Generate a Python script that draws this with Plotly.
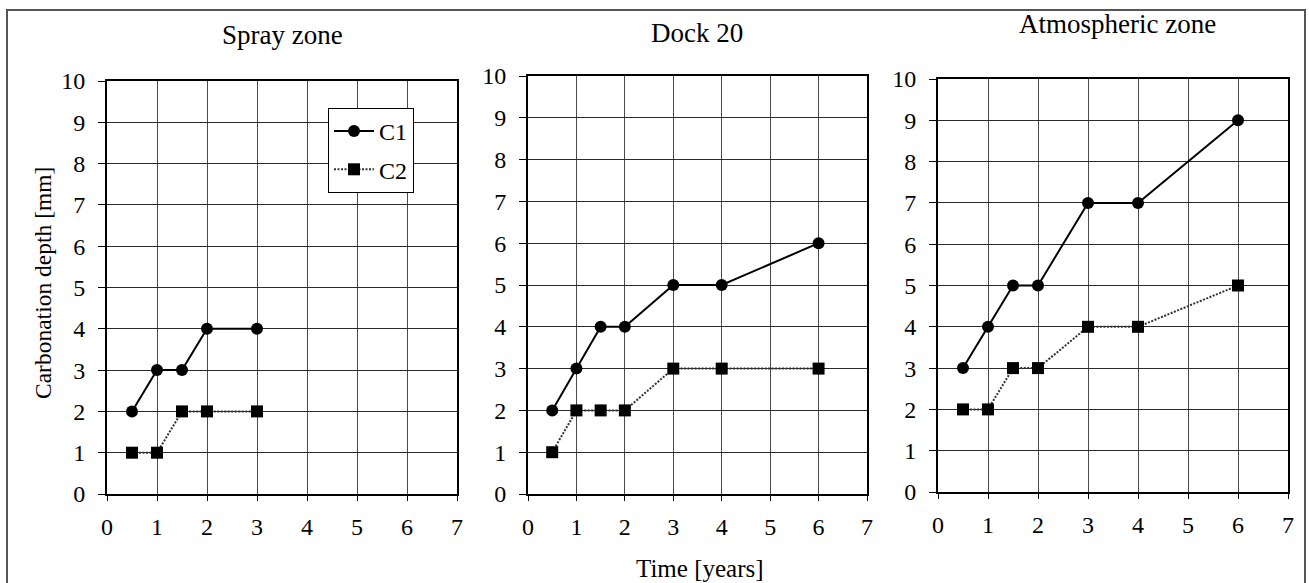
import plotly.graph_objects as go

W, H = 1309, 583

# ---- data -------------------------------------------------------------
panel_titles = ["Spray zone", "Dock 20", "Atmospheric zone"]

spray_time = [0.5, 1, 1.5, 2, 3]
spray_c1 = [2, 3, 3, 4, 4]
spray_c2 = [1, 1, 2, 2, 2]

dock_time = [0.5, 1, 1.5, 2, 3, 4, 6]
dock_c1 = [2, 3, 4, 4, 5, 5, 6]
dock_c2 = [1, 2, 2, 2, 3, 3, 3]

atmo_time = [0.5, 1, 1.5, 2, 3, 4, 6]
atmo_c1 = [3, 4, 5, 5, 7, 7, 9]
atmo_c2 = [2, 2, 3, 3, 4, 4, 5]

x_ticks = list(range(0, 8))
y_ticks = list(range(0, 11))

series_names = ["C1", "C2"]

# ---- layout helpers ---------------------------------------------------
FONT = "Liberation Serif, Times New Roman, serif"


def px_x(p):
    return p / W


def px_y(p):
    return 1 - p / H


# plot-area boxes in pixels: (left, right, top, bottom)
boxes = [(107, 457, 81, 494), (528, 867, 76, 494), (938, 1288, 79, 492)]
title_pos = [(282, 35), (697, 33), (1117, 24)]

panels = [
    (spray_time, spray_c1, spray_c2),
    (dock_time, dock_c1, dock_c2),
    (atmo_time, atmo_c1, atmo_c2),
]

fig = go.Figure()

for i, (t, c1, c2) in enumerate(panels):
    sfx = "" if i == 0 else str(i + 1)
    fig.add_trace(go.Scatter(
        x=t, y=c1, name=series_names[0], mode="lines+markers",
        xaxis="x" + sfx, yaxis="y" + sfx,
        line=dict(color="black", width=2),
        marker=dict(symbol="circle", size=12, color="black"),
        legendgroup="c1", showlegend=(i == 0),
    ))
    fig.add_trace(go.Scatter(
        x=t, y=c2, name=series_names[1], mode="lines+markers",
        xaxis="x" + sfx, yaxis="y" + sfx,
        line=dict(color="#333333", width=2, dash="2px,1.5px"),
        marker=dict(symbol="square", size=12, color="black"),
        legendgroup="c2", showlegend=(i == 0),
    ))

layout = dict(
    template="none",
    width=W, height=H, autosize=False,
    margin=dict(l=0, r=0, t=0, b=0, pad=0),
    paper_bgcolor="white", plot_bgcolor="white",
    font=dict(family=FONT, size=22, color="black"),
    showlegend=True,
    legend=dict(
        x=px_x(328), y=px_y(108), xanchor="left", yanchor="top",
        bgcolor="white", bordercolor="black", borderwidth=1,
        font=dict(family=FONT, size=24, color="black"),
        tracegroupgap=4, traceorder="grouped", itemwidth=40,
    ),
)

for i, (l, r, t, b) in enumerate(boxes):
    sfx = "" if i == 0 else str(i + 1)
    layout["xaxis" + sfx] = dict(
        domain=[px_x(l), px_x(r)], anchor="y" + sfx, automargin=False,
        range=[0, 7], tickvals=x_ticks, ticktext=[str(v) for v in x_ticks],
        showgrid=True, gridcolor="#4a4a4a", gridwidth=1,
        zeroline=False, showline=True, linecolor="black", linewidth=2,
        mirror=True, ticks="outside", ticklen=5, tickcolor="black",
        tickwidth=1, ticklabelstandoff=5,
        tickfont=dict(family=FONT, size=24, color="black"),
        fixedrange=True,
    )
    layout["yaxis" + sfx] = dict(
        domain=[px_y(b), px_y(t)], anchor="x" + sfx, automargin=False,
        range=[0, 10], tickvals=y_ticks, ticktext=[str(v) for v in y_ticks],
        showgrid=True, gridcolor="#2a2a2a", gridwidth=1,
        zeroline=False, showline=True, linecolor="black", linewidth=2,
        mirror=True, ticks="outside", ticklen=7, tickcolor="black",
        tickwidth=1, ticklabelstandoff=8,
        tickfont=dict(family=FONT, size=24, color="black"),
        fixedrange=True,
    )

annotations = []
for name, (cx, cy) in zip(panel_titles, title_pos):
    annotations.append(dict(
        text=name, xref="paper", yref="paper", x=px_x(cx), y=px_y(cy),
        xanchor="center", yanchor="middle", showarrow=False,
        font=dict(family=FONT, size=27, color="black"),
    ))
annotations.append(dict(
    text="Time [years]", xref="paper", yref="paper", x=px_x(700), y=px_y(568),
    xanchor="center", yanchor="middle", showarrow=False,
    font=dict(family=FONT, size=25, color="black"),
))
annotations.append(dict(
    text="Carbonation depth [mm]", xref="paper", yref="paper",
    x=px_x(43), y=px_y(283), textangle=-90,
    xanchor="center", yanchor="middle", showarrow=False,
    font=dict(family=FONT, size=23.5, color="black"),
))
layout["annotations"] = annotations

# outer frame (left, top and right sides) around the whole figure
fl, fr, ft = px_x(7), px_x(1305), px_y(10)
layout["shapes"] = [dict(
    type="path", xref="paper", yref="paper",
    path=f"M {fl},0 L {fl},{ft} L {fr},{ft} L {fr},0",
    line=dict(color="#555555", width=2), layer="below",
)]

fig.update_layout(**layout)
fig.write_html("out.html", config={"displayModeBar": False})
